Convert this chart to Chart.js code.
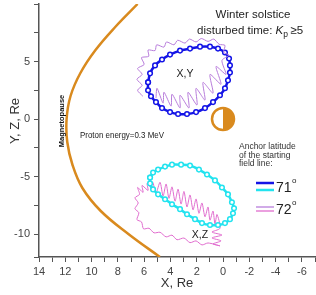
<!DOCTYPE html>
<html>
<head>
<meta charset="utf-8">
<script src="https://cdn.jsdelivr.net/npm/chart.js@4/dist/chart.umd.min.js"></script>
<style>
  html, body { margin: 0; padding: 0; background: #fff; }
  #wrap { width: 316px; height: 295px; }
</style>
</head>
<body>
<div id="wrap"><canvas id="myChart" width="316" height="295"></canvas></div>
<script>
// axis ticks that carry a label
const xTickLabels = [14, 12, 10, 8, 6, 4, 2, 0, -2, -4, -6];
const yTickLabels = [-10, -5, 0, 5];

// magnetopause (X, Y)
const magnetopause = [
  [6.5, 10], [8.2, 8], [9.7, 6], [10.85, 4], [11.6, 2], [11.9, 0], [11.85, -2],
  [11.45, -4], [10.7, -6], [9.3, -8], [7.2, -10], [4.8, -12]
];

// 71 deg, X-Y projection (blue)
const lat71XY = [
  [5.70, 3.19], [5.55, 3.97], [5.17, 4.66], [4.64, 5.17], [4.03, 5.60], [3.27, 5.95],
  [2.51, 6.12], [1.75, 6.29], [0.99, 6.29], [0.38, 6.12], [-0.15, 5.78], [-0.46, 5.26],
  [-0.53, 4.66], [-0.53, 4.05], [-0.38, 3.36], [-0.15, 2.67], [0.23, 2.07], [0.76, 1.47],
  [1.37, 0.95], [2.05, 0.60], [2.74, 0.43], [3.42, 0.43], [4.03, 0.60], [4.64, 0.95],
  [5.10, 1.47], [5.48, 1.98], [5.70, 2.50], [5.70, 3.19]
];

// 72 deg, X-Y projection (violet)
const lat72XY = [
  [6.10, 1.98], [6.50, 2.50], [6.15, 2.93], [6.55, 3.45], [6.15, 3.88], [6.50, 4.40],
  [6.00, 4.74], [6.20, 5.34], [5.65, 5.45], [5.70, 6.00], [5.17, 5.95], [5.05, 6.45],
  [4.49, 6.25], [4.30, 6.70], [3.73, 6.45], [3.45, 6.85], [2.89, 6.60], [2.55, 6.95],
  [2.05, 6.70], [1.65, 7.00], [1.14, 6.75], [0.70, 6.95], [0.30, 6.50], [-0.15, 6.40],
  [-0.05, 5.80], [-0.45, 5.55], [0.08, 5.09], [-0.23, 3.88], [0.53, 4.57], [0.15, 3.02],
  [0.99, 3.88], [0.76, 2.24], [1.52, 3.19], [1.37, 1.64], [2.05, 2.67], [1.98, 1.21],
  [2.66, 2.33], [2.59, 0.95], [3.27, 2.07], [3.27, 0.95], [3.88, 2.16], [3.95, 1.12],
  [4.49, 2.33], [4.56, 1.38], [5.02, 2.67], [5.10, 1.81]
];

// 71 deg, X-Z projection (cyan)
const lat71XZ = [
  [5.55, -5.09], [5.32, -4.66], [4.94, -4.40], [4.41, -4.14], [3.88, -3.97], [3.19, -3.97],
  [2.51, -4.05], [1.83, -4.40], [1.22, -4.83], [0.61, -5.34], [0.08, -5.95], [-0.38, -6.55],
  [-0.68, -7.24], [-0.84, -7.76], [-0.76, -8.19], [-0.53, -8.71], [-0.15, -9.05], [0.38, -9.22],
  [0.99, -9.22], [1.60, -9.05], [2.13, -8.71], [2.74, -8.28], [3.27, -7.84], [3.88, -7.41],
  [4.41, -6.98], [4.94, -6.55], [5.32, -6.12], [5.55, -5.60], [5.55, -5.09]
];

// 72 deg, X-Z projection (pink)
const lat72XZ = [
  [5.32, -5.52], [5.10, -6.45], [4.79, -5.50], [4.56, -6.70], [4.33, -5.65], [4.11, -6.90],
  [3.88, -5.90], [3.65, -7.15], [3.42, -6.10], [3.19, -7.40], [2.97, -6.30], [2.74, -7.65],
  [2.51, -6.60], [2.28, -7.90], [2.05, -6.95], [1.83, -8.20], [1.60, -7.30], [1.37, -8.50],
  [1.14, -7.65], [0.99, -8.80], [0.76, -8.00], [0.61, -9.15], [0.46, -8.30], [0.23, -9.50],
  [0.84, -9.83], [0.08, -10.09], [0.84, -10.34], [0.15, -10.60], [0.76, -10.86], [0.23, -11.03],
  [1.14, -10.78], [1.60, -10.95], [2.05, -10.60], [2.51, -10.75], [2.97, -10.35], [3.50, -10.50],
  [3.88, -10.10], [4.33, -10.25], [4.79, -9.85], [5.25, -9.90], [5.63, -9.50], [6.05, -9.55],
  [6.20, -8.95], [6.55, -8.75], [6.40, -8.15], [6.70, -7.80], [6.45, -7.30], [6.70, -6.85],
  [6.35, -6.55], [6.50, -5.95], [6.08, -6.38], [6.16, -5.78], [5.70, -6.21], [5.78, -5.60],
  [5.40, -6.12]
];

const earth = [0, 0];

const orange = "#d98a1e";
const blue = "#1414e6";
const cyan = "#22e3ef";
const violet = "#b87ddb";
const pink = "#e06cce";
const FONT = "'Liberation Sans', Arial, sans-serif";

const toPts = (arr) => arr.map((p) => ({ x: p[0], y: p[1] }));

// texts, legend and the earth symbol
const extras = {
  id: "extras",
  afterDatasetsDraw(chart) {
    const ctx = chart.ctx;
    const xs = chart.scales.x;
    const ys = chart.scales.y;
    // earth
    const cx = xs.getPixelForValue(earth[0]);
    const cy = ys.getPixelForValue(earth[1]);
    const r = 11;
    ctx.save();
    ctx.fillStyle = "#fff";
    ctx.beginPath();
    ctx.arc(cx, cy, r, 0, Math.PI * 2);
    ctx.fill();
    ctx.fillStyle = orange;
    ctx.beginPath();
    ctx.arc(cx, cy, r, -Math.PI / 2, Math.PI / 2);
    ctx.closePath();
    ctx.fill();
    ctx.strokeStyle = orange;
    ctx.lineWidth = 2.5;
    ctx.beginPath();
    ctx.arc(cx, cy, r, 0, Math.PI * 2);
    ctx.stroke();
    ctx.restore();
  },
  afterDraw(chart) {
    const ctx = chart.ctx;
    ctx.save();
    ctx.fillStyle = "#222";
    ctx.textBaseline = "middle";

    // y axis title
    ctx.save();
    ctx.translate(15, 121);
    ctx.rotate(-Math.PI / 2);
    ctx.textAlign = "center";
    ctx.font = "13px " + FONT;
    ctx.fillStyle = "#333";
    ctx.fillText("Y, Z, Re", 0, 0);
    ctx.restore();

    // heading
    ctx.textAlign = "center";
    ctx.font = "11.5px " + FONT;
    ctx.fillText("Winter solstice", 253, 15);
    ctx.textAlign = "left";
    let x = 197;
    const y2 = 31;
    const s1 = "disturbed time: ";
    ctx.fillText(s1, x, y2);
    x += ctx.measureText(s1).width;
    ctx.font = "italic 11.5px " + FONT;
    ctx.fillText("K", x, y2);
    x += ctx.measureText("K").width;
    ctx.font = "8.5px " + FONT;
    ctx.fillText("p", x, y2 + 4);
    x += ctx.measureText("p").width + 2.5;
    ctx.font = "11.5px " + FONT;
    ctx.fillText("\u2265", x, y2);
    x += ctx.measureText("\u2265").width;
    ctx.fillText("5", x, y2);

    // labels inside the plot
    ctx.font = "9.5px " + FONT;
    ctx.fillText("Proton energy=0.3 MeV", 80, 135, 84);
    ctx.textAlign = "center";
    ctx.font = "10.5px " + FONT;
    ctx.fillText("X,Y", 185, 74);
    ctx.fillText("X,Z", 200, 235);

    ctx.save();
    ctx.translate(62, 121);
    ctx.rotate(-Math.PI / 2);
    ctx.font = "bold 7.5px " + FONT;
    ctx.fillStyle = "#111";
    ctx.fillText("Magnetopause", 0, 0, 58);
    ctx.restore();

    // legend
    ctx.textAlign = "left";
    ctx.font = "8.5px " + FONT;
    ctx.fillStyle = "#333";
    ctx.fillText("Anchor latitude", 239, 147, 67);
    ctx.fillText("of the starting", 239, 155.5, 63);
    ctx.fillText("field line:", 239, 164, 40);

    const seg = (col, yy, w) => {
      ctx.strokeStyle = col;
      ctx.lineWidth = w;
      ctx.beginPath();
      ctx.moveTo(256, yy);
      ctx.lineTo(274, yy);
      ctx.stroke();
    };
    seg(blue, 183, 2.5);
    seg(cyan, 190, 2.5);
    seg(violet, 207, 1.3);
    seg(pink, 211, 1.3);

    ctx.fillStyle = "#222";
    ctx.font = "14px " + FONT;
    ctx.fillText("71", 276, 188);
    ctx.fillText("72", 276, 210);
    const w71 = ctx.measureText("71").width;
    ctx.font = "8px " + FONT;
    ctx.fillText("o", 276 + w71 + 0.5, 181);
    ctx.fillText("o", 276 + w71 + 0.5, 203);
    ctx.restore();
  }
};

const ctx = document.getElementById("myChart");

new Chart(ctx, {
  type: "scatter",
  data: {
    datasets: [
      {
        label: "Magnetopause",
        data: toPts(magnetopause),
        showLine: true,
        borderColor: orange,
        borderWidth: 2.5,
        pointRadius: 0,
        tension: 0.4
      },
      {
        label: "72 XY",
        data: toPts(lat72XY),
        showLine: true,
        borderColor: violet,
        borderWidth: 1,
        pointRadius: 0,
        tension: 0.25
      },
      {
        label: "71 XY",
        data: toPts(lat71XY),
        showLine: true,
        borderColor: blue,
        borderWidth: 2.5,
        pointRadius: 2.3,
        pointBorderWidth: 1.5,
        pointBorderColor: blue,
        pointBackgroundColor: "#fff",
        tension: 0.3
      },
      {
        label: "71 XZ",
        data: toPts(lat71XZ),
        showLine: true,
        borderColor: cyan,
        borderWidth: 2.5,
        pointRadius: 2.3,
        pointBorderWidth: 1.5,
        pointBorderColor: cyan,
        pointBackgroundColor: "#fff",
        tension: 0.3
      },
      {
        label: "72 XZ",
        data: toPts(lat72XZ),
        showLine: true,
        borderColor: pink,
        borderWidth: 1,
        pointRadius: 0,
        tension: 0.25
      }
    ]
  },
  options: {
    responsive: false,
    animation: false,
    devicePixelRatio: 1,
    layout: { autoPadding: false, padding: { top: 4, right: 1, left: 0, bottom: 0 } },
    plugins: {
      legend: { display: false },
      tooltip: { enabled: false }
    },
    scales: {
      x: {
        type: "linear",
        reverse: true,
        min: -7,
        max: 14,
        afterFit: (scale) => {
          scale.height = 38;
          scale.paddingLeft = 0;
          scale.paddingRight = 0;
        },
        border: { color: "#555", width: 1.5 },
        grid: { drawOnChartArea: false, tickLength: 5, color: "#555", lineWidth: 1 },
        ticks: {
          stepSize: 1,
          autoSkip: false,
          maxRotation: 0,
          padding: 3,
          color: "#444",
          font: { family: FONT, size: 11 },
          callback: (v) => (xTickLabels.includes(v) ? String(v) : "")
        },
        title: {
          display: true,
          text: "X, Re",
          color: "#333",
          font: { family: FONT, size: 13 },
          padding: { top: 0, bottom: 4 }
        }
      },
      y: {
        type: "linear",
        min: -12,
        max: 10,
        afterFit: (scale) => {
          scale.width = 39;
          scale.paddingTop = 0;
          scale.paddingBottom = 0;
        },
        border: { color: "#555", width: 1.5 },
        grid: { drawOnChartArea: false, tickLength: 5, color: "#555", lineWidth: 1 },
        ticks: {
          stepSize: 2.5,
          autoSkip: false,
          padding: 4,
          color: "#444",
          font: { family: FONT, size: 11 },
          callback: (v) => (yTickLabels.includes(v) ? String(v) : "")
        }
      }
    }
  },
  plugins: [extras]
});
</script>
</body>
</html>
